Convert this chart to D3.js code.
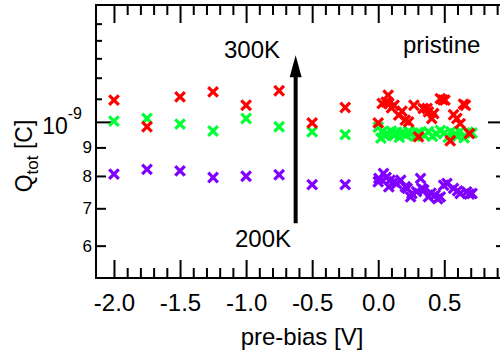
<!DOCTYPE html>
<html>
<head>
<meta charset="utf-8">
<script src="https://cdn.jsdelivr.net/npm/d3@7"></script>
<style>
  body { margin: 0; background: #fff; }
  svg { display: block; font-family: Arial, "Liberation Sans", sans-serif; }
</style>
</head>
<body>
<svg id="chart" width="500" height="355"></svg>
<script>
// Q_tot values are in units of 1e-9 C

// coarse pre-bias sweep, -2.0 .. -0.25 V
const sweepV = [-2.0, -1.75, -1.5, -1.25, -1.0, -0.75, -0.5, -0.25]
const q300Sweep = [1.094, 0.980, 1.109, 1.132, 1.071, 1.137, 0.996, 1.061]
const q250Sweep = [1.003, 1.014, 0.991, 0.963, 1.014, 0.980, 0.960, 0.949]
const q200Sweep = [0.806, 0.822, 0.817, 0.795, 0.799, 0.804, 0.772, 0.772]

// dense sweep 0 .. 0.7 V
const v300 = [0.0, 0.03, 0.06, 0.075, 0.08, 0.10, 0.12, 0.155, 0.18, 0.205, 0.23, 0.27, 0.305, 0.34, 0.37,
  0.38, 0.405, 0.42, 0.47, 0.49, 0.505, 0.545, 0.57, 0.595, 0.62, 0.645, 0.66, 0.69]
const q300 = [0.996, 1.079, 1.085, 1.117, 1.079, 1.060, 1.071, 1.028, 1.045, 1.007, 1.000, 1.071, 0.940, 1.057, 1.057,
  1.042, 1.014, 1.035, 1.101, 1.095, 1.094, 0.925, 1.030, 1.014, 0.993, 1.076, 1.071, 0.953]

const v250 = [0.0, 0.02, 0.03, 0.05, 0.07, 0.10, 0.12, 0.14, 0.16, 0.18, 0.21, 0.23, 0.25, 0.28, 0.30, 0.32, 0.35,
  0.38, 0.41, 0.44, 0.47, 0.50, 0.53, 0.55, 0.58, 0.60, 0.62, 0.65, 0.68, 0.71]
const q250 = [0.978, 0.935, 0.960, 0.945, 0.952, 0.962, 0.945, 0.958, 0.938, 0.955, 0.948, 0.962, 0.952, 0.942, 0.957, 0.955, 0.946,
  0.960, 0.942, 0.952, 0.965, 0.955, 0.938, 0.960, 0.952, 0.942, 0.962, 0.936, 0.958, 0.955]

const v200 = [0.0, 0.005, 0.04, 0.06, 0.08, 0.09, 0.12, 0.14, 0.17, 0.205, 0.22, 0.245, 0.255, 0.29, 0.32,
  0.33, 0.345, 0.38, 0.40, 0.43, 0.45, 0.47, 0.495, 0.52, 0.57, 0.60, 0.62, 0.67, 0.69, 0.71]
const q200 = [0.781, 0.792, 0.808, 0.795, 0.765, 0.786, 0.781, 0.775, 0.786, 0.765, 0.760, 0.734, 0.744, 0.750, 0.792,
  0.760, 0.755, 0.734, 0.745, 0.739, 0.728, 0.734, 0.770, 0.776, 0.760, 0.752, 0.744, 0.749, 0.742, 0.744]

const xMajor = [-2.0, -1.5, -1.0, -0.5, 0.0, 0.5]
const yLabelled = [0.6, 0.7, 0.8, 0.9]
const yUnlabelled = [1.1, 1.2, 1.3, 1.4, 1.5]

// arrow from 200K up to 300K, drawn at this pre-bias
const arrowV = -0.625
const arrowFrom = 0.658
const arrowTo = 1.317

const svg = d3.select("#chart")
const pLeft = 96, pRight = 506, pTop = 5, pBottom = 278

const x = d3.scaleLinear().domain([-2.136, 0.967]).range([pLeft, pRight])
const y = d3.scaleLog().domain([0.525, 1.62]).range([pBottom, pTop])

const xMinor = d3.range(-19, 10).map(d => d / 10).filter(d => !xMajor.includes(d))
const fmtX = v => d3.format(".1f")(v).replace("\u2212", "-")

function styleAxis(g) {
  g.select(".domain").remove()
  g.selectAll(".tick line").attr("stroke", "#000").attr("stroke-width", 2)
  g.selectAll(".tick text").attr("fill", "#000")
}

// bottom axis
svg.append("g").attr("transform", "translate(0," + pBottom + ")")
  .call(d3.axisBottom(x).tickValues(xMinor).tickSize(-10).tickFormat(""))
  .call(styleAxis)
svg.append("g").attr("transform", "translate(0," + pBottom + ")")
  .call(d3.axisBottom(x).tickValues(xMajor).tickSize(-18).tickPadding(16).tickFormat(fmtX))
  .call(styleAxis)
  .selectAll("text").attr("font-size", 24)

// top axis, ticks only
svg.append("g").attr("transform", "translate(0," + pTop + ")")
  .call(d3.axisTop(x).tickValues(xMinor).tickSize(-10).tickFormat(""))
  .call(styleAxis)
svg.append("g").attr("transform", "translate(0," + pTop + ")")
  .call(d3.axisTop(x).tickValues(xMajor).tickSize(-18).tickFormat(""))
  .call(styleAxis)

// left axis
svg.append("g").attr("transform", "translate(" + pLeft + ",0)")
  .call(d3.axisLeft(y).tickValues(yUnlabelled).tickSize(-6).tickFormat(""))
  .call(styleAxis)
svg.append("g").attr("transform", "translate(" + pLeft + ",0)")
  .call(d3.axisLeft(y).tickValues(yLabelled).tickSize(-10).tickPadding(4).tickFormat(d => Math.round(d * 10)))
  .call(styleAxis)
  .selectAll("text").attr("font-size", 17)
svg.append("g").attr("transform", "translate(" + pLeft + ",0)")
  .call(d3.axisLeft(y).tickValues([1]).tickSize(-17).tickFormat(""))
  .call(styleAxis)

const decade = svg.append("text").attr("x", 82).attr("y", y(1) + 12)
  .attr("text-anchor", "end").attr("font-size", 23)
decade.append("tspan").text("10")
decade.append("tspan").attr("font-size", 16).attr("dy", -15).text("-9")

// right axis, mostly off the canvas
svg.append("g").attr("transform", "translate(" + pRight + ",0)")
  .call(d3.axisRight(y).tickValues(yUnlabelled).tickSize(-6).tickFormat(""))
  .call(styleAxis)
svg.append("g").attr("transform", "translate(" + pRight + ",0)")
  .call(d3.axisRight(y).tickValues(yLabelled).tickSize(-10).tickFormat(""))
  .call(styleAxis)
svg.append("g").attr("transform", "translate(" + pRight + ",0)")
  .call(d3.axisRight(y).tickValues([1]).tickSize(-18).tickFormat(""))
  .call(styleAxis)

// frame
svg.append("rect")
  .attr("x", pLeft).attr("y", pTop)
  .attr("width", pRight - pLeft).attr("height", pBottom - pTop)
  .attr("fill", "none").attr("stroke", "#000").attr("stroke-width", 2)

// axis titles
svg.append("text").attr("x", 302).attr("y", 345)
  .attr("text-anchor", "middle").attr("font-size", 24)
  .text("pre-bias [V]")

const yTitle = svg.append("text")
  .attr("transform", "translate(32,156) rotate(-90)")
  .attr("text-anchor", "middle").attr("font-size", 23)
yTitle.append("tspan").text("Q")
yTitle.append("tspan").attr("font-size", 17).attr("dy", 6).text("tot")
yTitle.append("tspan").attr("dy", -6).text(" [C]")

// markers
const cross = "M-4.8,-4.8L4.8,4.8M-4.8,4.8L4.8,-4.8"
function drawSeries(vs, qs, color) {
  svg.append("g").selectAll("path")
    .data(vs.map((v, i) => [v, qs[i]]))
    .enter().append("path")
    .attr("d", cross)
    .attr("transform", d => "translate(" + x(d[0]) + "," + y(d[1]) + ")")
    .attr("stroke", color)
    .attr("stroke-width", 3.2)
    .attr("fill", "none")
}

const purple = "#8000ff", green = "#00ff33", red = "#ff0000"
drawSeries(sweepV, q200Sweep, purple)
drawSeries(v200, q200, purple)
drawSeries(sweepV, q250Sweep, green)
drawSeries(v250, q250, green)
drawSeries(sweepV, q300Sweep, red)
drawSeries(v300, q300, red)

// temperature arrow
const ax = x(arrowV), tipY = y(arrowTo)
svg.append("line")
  .attr("x1", ax).attr("x2", ax)
  .attr("y1", y(arrowFrom)).attr("y2", tipY + 20)
  .attr("stroke", "#000").attr("stroke-width", 4)
svg.append("path")
  .attr("d", "M" + ax + "," + tipY + "L" + (ax - 6) + "," + (tipY + 22) + "L" + (ax + 6) + "," + (tipY + 22) + "Z")
  .attr("fill", "#000")

svg.append("text").attr("x", 224).attr("y", 58).attr("font-size", 24).text("300K")
svg.append("text").attr("x", 235).attr("y", 247).attr("font-size", 24).text("200K")
svg.append("text").attr("x", 403).attr("y", 53).attr("font-size", 24).text("pristine")
</script>
</body>
</html>
